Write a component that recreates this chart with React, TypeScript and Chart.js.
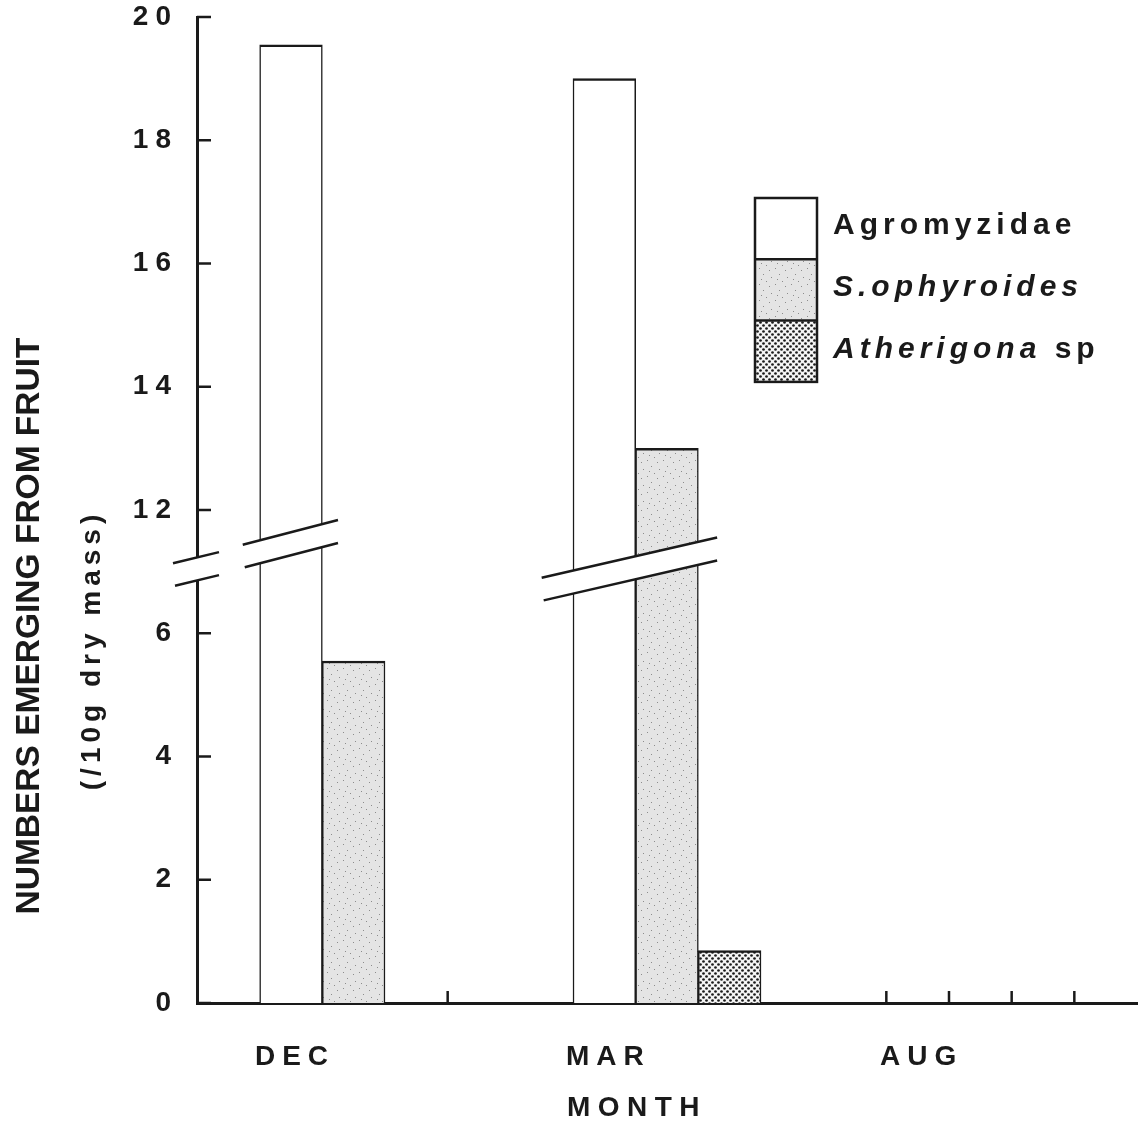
import React, { useEffect, useRef } from 'react';
import { Chart, registerables } from 'chart.js';

Chart.register(...registerables);

// ---------- data ----------
const months = ['DEC', 'MAR', 'AUG'];
const seriesNames = ['Agromyzidae', 'S.ophyroides', 'Atherigona sp'];
const agromyzidae = [19.55, 19.0, 0];
const sOphyroides = [5.55, 13.0, 0];
const atherigona = [0, 0.85, 0];
const yTickValues = [0, 2, 4, 6, 12, 14, 16, 18, 20];
// legend label parts: [text, italic]
const legendParts: [string, boolean][][] = [
  [['Agromyzidae', false]],
  [['S.ophyroides', true]],
  [['Atherigona', true], [' sp', false]],
];
const xTitle = 'MONTH';
const yTitleLines = ['NUMBERS EMERGING FROM FRUIT', '(/10g dry mass)'];

// broken axis: values above BREAK_LOW are shifted down so that 12 sits at 8
const BREAK_LOW = 6;
const BREAK_HIGH = 12;
const BREAK_GAP = 2;
const SHIFT = BREAK_HIGH - BREAK_LOW - BREAK_GAP;
const toPlot = (v: number) => (v <= BREAK_LOW ? v : v - SHIFT);
const fromPlot = (p: number) => (p <= BREAK_LOW ? p : p + SHIFT);

// x axis: each month occupies 5 bar-width slots
const SLOTS_PER_MONTH = 5;
const FIRST_BAR_SLOT = 1;
const xTickMarkSlots = [4, 11, 12, 13, 14];

const INK = '#1a1a1a';
const FONT = '"Liberation Sans", Arial, Helvetica, sans-serif';

function makeLightPattern(): CanvasPattern | string {
  const c = document.createElement('canvas');
  c.width = 16;
  c.height = 16;
  const g = c.getContext('2d');
  if (!g) return '#e2e2e2';
  g.fillStyle = '#e4e4e4';
  g.fillRect(0, 0, 16, 16);
  g.fillStyle = '#8c8c8c';
  const dots = [[3, 5], [11, 2], [7, 12], [14, 9], [1, 14], [9, 7]];
  dots.forEach(([x, y]) => g.fillRect(x, y, 1, 1));
  return g.createPattern(c, 'repeat') || '#e2e2e2';
}

function makeDarkPattern(): CanvasPattern | string {
  const c = document.createElement('canvas');
  c.width = 6;
  c.height = 6;
  const g = c.getContext('2d');
  if (!g) return '#777';
  g.fillStyle = '#f4f4f4';
  g.fillRect(0, 0, 6, 6);
  g.fillStyle = '#1a1a1a';
  const pts = [[1.5, 1.5], [4.5, 4.5]];
  pts.forEach(([x, y]) => {
    g.beginPath();
    g.arc(x, y, 1.35, 0, Math.PI * 2);
    g.fill();
  });
  return g.createPattern(c, 'repeat') || '#777';
}

export default function App() {
  const ref = useRef<HTMLCanvasElement>(null);

  useEffect(() => {
    document.body.style.margin = '0';
    const canvas = ref.current;
    if (!canvas) return;

    const fills: (string | CanvasPattern)[] = ['#ffffff', makeLightPattern(), makeDarkPattern()];
    const seriesValues = [agromyzidae, sOphyroides, atherigona];
    const nSlots = months.length * SLOTS_PER_MONTH;
    const slotLabels: string[] = Array.from({ length: nSlots }, () => '');
    months.forEach((m, i) => {
      slotLabels[i * SLOTS_PER_MONTH + FIRST_BAR_SLOT] = m;
    });

    const datasets = seriesNames.map((name, s) => {
      const data: (number | null)[] = Array.from({ length: nSlots }, () => null);
      seriesValues[s].forEach((v, m) => {
        if (v > 0) data[m * SLOTS_PER_MONTH + FIRST_BAR_SLOT + s] = toPlot(v);
      });
      return {
        label: name,
        data,
        backgroundColor: fills[s],
        borderColor: INK,
        borderWidth: { top: 2.5, left: 1.5, right: 1.5, bottom: 0 },
        borderSkipped: 'bottom' as const,
        barPercentage: 1,
        categoryPercentage: 1,
      };
    });

    // break decorations (position in slot units / plotted y units)
    const barBreaks = [
      { from: 0.23, to: 1.75, at: 7.45, slope: -0.26 },
      { from: 5.0, to: 7.8, at: 7.04, slope: -0.23 },
    ];
    const axisBreak = { dx0: -24, dx1: 22, at: 7.04, slope: -0.24 };
    const BAND = 23;

    const decor = {
      id: 'decor',
      beforeDraw(chart: any) {
        chart.ctx.letterSpacing = '7px';
      },
      afterDraw(chart: any) {
        const ctx: CanvasRenderingContext2D = chart.ctx;
        const { chartArea } = chart;
        const xs = chart.scales.x;
        const ys = chart.scales.y;
        ctx.save();
        ctx.letterSpacing = '0px';
        ctx.strokeStyle = INK;
        ctx.lineCap = 'butt';

        // inward tick marks on y
        ctx.lineWidth = 2.5;
        ys.ticks.forEach((t: any) => {
          const py = ys.getPixelForValue(t.value);
          ctx.beginPath();
          ctx.moveTo(chartArea.left, py);
          ctx.lineTo(chartArea.left + 14, py);
          ctx.stroke();
        });
        // inward tick marks on x (slot boundaries)
        xTickMarkSlots.forEach((s) => {
          const px = (xs.getPixelForValue(s - 1) + xs.getPixelForValue(s)) / 2;
          ctx.beginPath();
          ctx.moveTo(px, chartArea.bottom);
          ctx.lineTo(px, chartArea.bottom - 12);
          ctx.stroke();
        });

        // break bands
        const drawBand = (x0: number, x1: number, cy: number, slope: number) => {
          const cx = (x0 + x1) / 2;
          const yU = (x: number) => cy - BAND / 2 + slope * (x - cx);
          const yL = (x: number) => cy + BAND / 2 + slope * (x - cx);
          ctx.fillStyle = '#ffffff';
          ctx.beginPath();
          ctx.moveTo(x0, yU(x0));
          ctx.lineTo(x1, yU(x1));
          ctx.lineTo(x1, yL(x1));
          ctx.lineTo(x0, yL(x0));
          ctx.closePath();
          ctx.fill();
          ctx.lineWidth = 2.5;
          ctx.beginPath();
          ctx.moveTo(x0, yU(x0));
          ctx.lineTo(x1, yU(x1));
          ctx.moveTo(x0 + 2, yL(x0 + 2));
          ctx.lineTo(x1, yL(x1));
          ctx.stroke();
        };
        const slotPx = (v: number) => {
          const a = xs.getPixelForValue(0);
          const b = xs.getPixelForValue(1);
          return a + (b - a) * v;
        };
        barBreaks.forEach((b) => drawBand(slotPx(b.from), slotPx(b.to), ys.getPixelForValue(b.at), b.slope));
        drawBand(chartArea.left + axisBreak.dx0, chartArea.left + axisBreak.dx1, ys.getPixelForValue(axisBreak.at), axisBreak.slope);

        // legend
        const lx = 755, ly = 198, bw = 62, bh = 61.3;
        seriesNames.forEach((_, i) => {
          ctx.fillStyle = fills[i] as any;
          ctx.fillRect(lx, ly + i * bh, bw, bh);
        });
        ctx.lineWidth = 2.5;
        ctx.strokeRect(lx, ly, bw, bh * seriesNames.length);
        for (let i = 1; i < seriesNames.length; i++) {
          ctx.beginPath();
          ctx.moveTo(lx, ly + i * bh);
          ctx.lineTo(lx + bw, ly + i * bh);
          ctx.stroke();
        }
        ctx.fillStyle = INK;
        ctx.textAlign = 'left';
        ctx.textBaseline = 'alphabetic';
        ctx.letterSpacing = '5px';
        const baselines = [234, 296, 358];
        legendParts.forEach((parts, i) => {
          let x = 833;
          parts.forEach(([t, it]) => {
            ctx.font = `${it ? 'italic ' : ''}bold 30px ${FONT}`;
            ctx.fillText(t, x, baselines[i]);
            x += ctx.measureText(t).width;
          });
        });

        // x-axis title
        ctx.textAlign = 'center';
        ctx.textBaseline = 'middle';
        ctx.letterSpacing = '7.5px';
        ctx.font = `bold 28px ${FONT}`;
        ctx.fillText(xTitle, 637, 1108);

        // y-axis title (two lines)
        ctx.save();
        ctx.translate(30, 626);
        ctx.rotate(-Math.PI / 2);
        ctx.letterSpacing = '0px';
        ctx.font = `bold 33.5px ${FONT}`;
        ctx.fillText(yTitleLines[0], 0, 0);
        ctx.restore();
        ctx.save();
        ctx.translate(92, 650);
        ctx.rotate(-Math.PI / 2);
        ctx.letterSpacing = '5px';
        ctx.font = `bold 28px ${FONT}`;
        ctx.fillText(yTitleLines[1], 0, 0);
        ctx.restore();

        ctx.restore();
      },
    };

    const chart = new Chart(canvas, {
      type: 'bar',
      data: { labels: slotLabels, datasets },
      options: {
        animation: false,
        responsive: false,
        maintainAspectRatio: false,
        devicePixelRatio: 1,
        layout: { padding: { top: 17, right: 4, left: 0, bottom: 0 } },
        plugins: {
          legend: { display: false },
          tooltip: { enabled: false },
        },
        scales: {
          x: {
            type: 'category',
            stacked: true,
            offset: true,
            grid: { display: false },
            border: { display: true, color: INK, width: 3 },
            ticks: {
              autoSkip: false,
              maxRotation: 0,
              minRotation: 0,
              padding: 29,
              labelOffset: 4,
              color: INK,
              font: { family: FONT, size: 28, weight: 'bold' },
            },
            title: { display: false },
            afterFit: (s: any) => {
              s.height = 124;
              s.paddingLeft = 0;
              s.paddingRight = 0;
            },
          },
          y: {
            type: 'linear',
            stacked: true,
            min: 0,
            max: toPlot(20),
            grid: { display: false },
            border: { display: true, color: INK, width: 3 },
            afterBuildTicks: (s: any) => {
              s.ticks = yTickValues.map((v) => ({ value: toPlot(v) }));
            },
            ticks: {
              padding: 11,
              color: INK,
              font: { family: FONT, size: 28, weight: 'bold', lineHeight: 1 },
              callback: (v: any) => String(fromPlot(Number(v))),
            },
            afterFit: (s: any) => {
              s.width = 197;
              s.paddingTop = 0;
              s.paddingBottom = 0;
            },
          },
        },
      },
      plugins: [decor],
    });

    return () => chart.destroy();
  }, []);

  return <canvas ref={ref} width={1141} height={1127} style={{ display: 'block' }} />;
}
